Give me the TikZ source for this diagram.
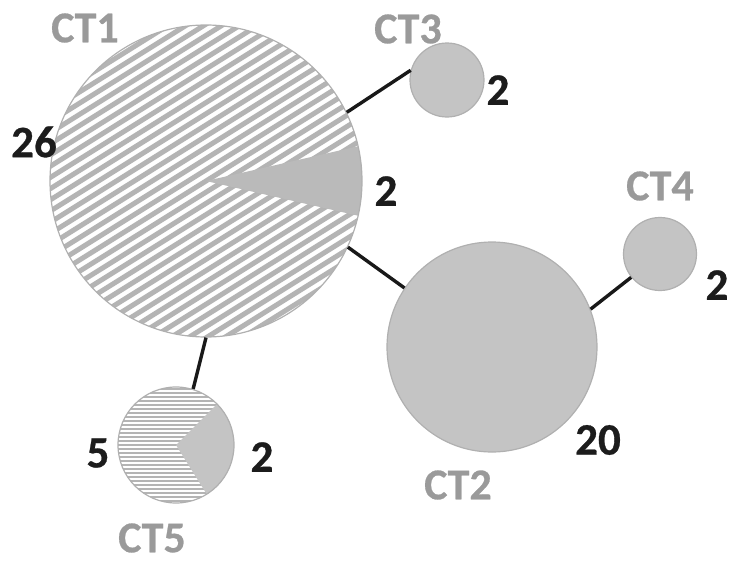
\documentclass[tikz,border=0pt]{standalone}
\usepackage{fontspec}
\setmainfont[BoldFeatures={FakeBold=0.6}]{Carlito}
\usetikzlibrary{calc}
\definecolor{circfill}{HTML}{C4C4C4}
\definecolor{circedge}{HTML}{B0B0B0}
\definecolor{stripeg}{HTML}{B4B4B4}
\definecolor{labelg}{HTML}{9A9A9A}
\definecolor{numk}{HTML}{1C1C1C}
\begin{document}
\begin{tikzpicture}[x=1pt,y=-1pt,
  blob/.style={circle, inner sep=0pt, fill=circfill, draw=circedge, line width=1.2pt},
  ctlabel/.style={font=\fontsize{44}{44}\selectfont\bfseries, text=labelg, inner sep=0pt},
  count/.style={font=\fontsize{45}{45}\selectfont\bfseries, text=numk, inner sep=0pt},
  link/.style={line width=3.4pt, black!90}]
\useasboundingbox (0,0) rectangle (731,565);

% CT1: hatched pie with a solid wedge
\coordinate (c1) at (206,181);
\begin{scope}
  \clip (c1) circle[radius=156];
  \fill[white] (c1) circle[radius=156];
  \foreach \k in {-20,...,20}
    \draw[stripeg, line width=5pt] ($(c1)+(58:{\k*9.5})+(148:220)$) -- ++(-32:440);
\end{scope}
\fill[circfill!95!black] (c1) -- ++(-12.86:156) arc[start angle=-12.86, end angle=12.86, radius=156] -- cycle;
\node[blob, fill=none, minimum size=312pt] (ct1) at (c1) {};

% CT5: hatched pie with a solid wedge
\coordinate (c5) at (176,445);
\begin{scope}
  \clip (c5) circle[radius=58];
  \fill[white] (c5) circle[radius=58];
  \foreach \k in {-16,...,16}
    \draw[stripeg, line width=2pt] ($(c5)+(-70,{\k*4})$) -- ++(140,0);
\end{scope}
\fill[circfill] (c5) -- ++(-45:58) arc[start angle=-45, end angle=58, radius=58] -- cycle;
\node[blob, fill=none, minimum size=116pt] (ct5) at (c5) {};

% solid circles
\node[blob, minimum size=74pt] (ct3) at (447,80) {};
\node[blob, minimum size=210pt] (ct2) at (492,347) {};
\node[blob, minimum size=73pt] (ct4) at (660,254) {};

% connectors
\draw[link] (ct1.26) -- (ct3.165);
\draw[link] (ct1.-25) -- (ct2.146);
\draw[link] (ct2.21) -- (ct4.219);
\draw[link] (ct1.-90) -- (ct5.73);

% labels
\node[ctlabel] (l1) at (85,28) {CT1};
\node[ctlabel] (l3) at (408,29) {CT3};
\node[ctlabel] (l4) at (660,186) {CT4};
\node[ctlabel] (l2) at (458,485) {CT2};
\node[ctlabel] (l5) at (152,538) {CT5};

\node[count] (n26) at (34,142) {26};
\node[count] (n1b) at (386,191) {2};
\node[count] (n3) at (498,90) {2};
\node[count] (n4) at (717,285) {2};
\node[count] (n20) at (598,440) {20};
\node[count] (n5a) at (98,453) {5};
\node[count] (n5b) at (262,457) {2};
\end{tikzpicture}
\end{document}
